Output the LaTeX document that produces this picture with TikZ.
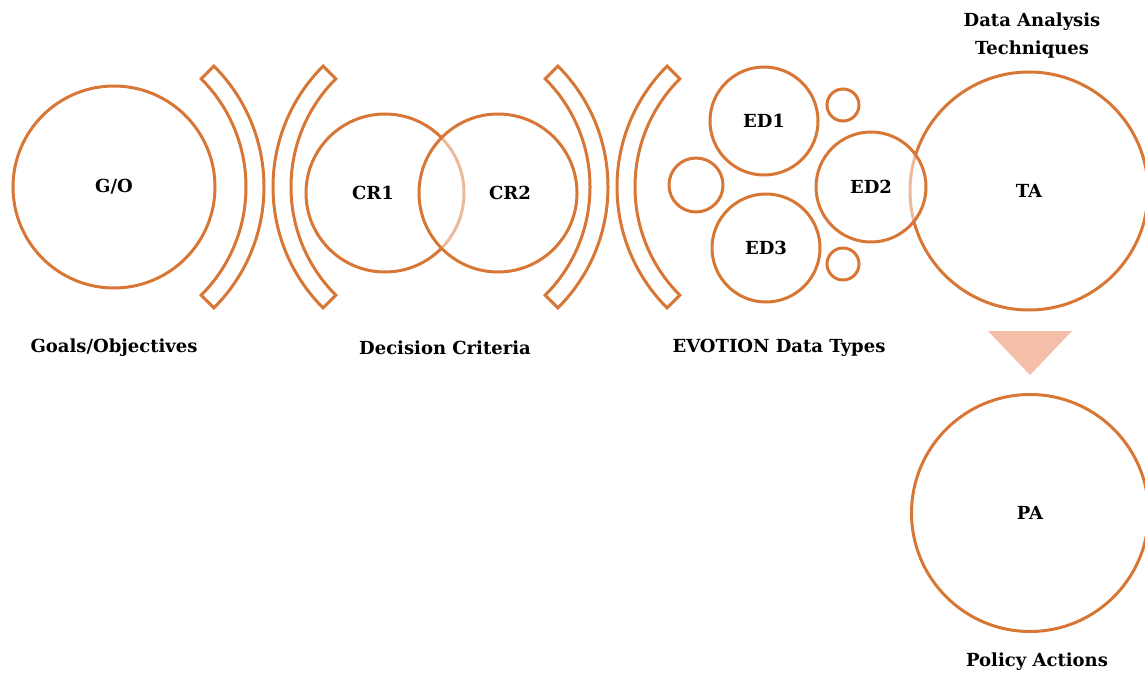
\documentclass[tikz,border=0pt]{standalone}
\usepackage{fontspec}
\setmainfont{DejaVu Serif}
\definecolor{ringcol}{RGB}{216,118,54}
\definecolor{tricol}{RGB}{244,190,168}
\tikzset{
  ring/.style={circle,draw=ringcol,line width=3pt,inner sep=0pt,minimum size=#1},
  veil/.style={fill=white,fill opacity=0.5,text opacity=1},
  bracketband/.style={draw=ringcol,line width=3pt,line join=miter},
  lbl/.style={font=\fontsize{18}{28}\selectfont\bfseries,text=black,inner sep=0pt,align=center},
}
\begin{document}
\begin{tikzpicture}[x=1pt,y=1pt]
\useasboundingbox (0,0) rectangle (1145,-676);
\clip (0,0) rectangle (1145,-676);
% circles
\node[ring=202] (go) at (114,-187) {};
\node[ring=158] (cr1) at (385,-193) {};
\node[ring=158,veil] (cr2) at (498,-193) {};
\node[ring=238] (ta) at (1029,-191) {};
\node[ring=108] (ed1) at (764,-121) {};
\node[ring=110,veil] (ed2) at (871,-187) {};
\node[ring=108] (ed3) at (766,-248) {};
\node[ring=54] (s1) at (696,-185) {};
\node[ring=32] (s2) at (843,-105) {};
\node[ring=32] (s3) at (843,-264) {};
\node[ring=237] (pa) at (1030,-513) {};
% brackets
\foreach \cx/\ang in {93/0, 444/180, 437/0, 788/180}{
  \begin{scope}[shift={(\cx,-187)},rotate=\ang]
    \draw[bracketband] (-45:153) -- (-45:171) arc[start angle=-45,end angle=45,radius=171pt]
      -- (45:153) arc[start angle=45,end angle=-45,radius=153pt] -- cycle;
  \end{scope}
}
% triangle
\fill[tricol] (988,-331) -- (1072,-331) -- (1030,-375) -- cycle;
% labels inside circles
\node[lbl] (tgo) at (go) {G/O};
\node[lbl] (tcr1) at ([xshift=-12pt]cr1.center) {CR1};
\node[lbl] (tcr2) at ([xshift=12pt]cr2.center) {CR2};
\node[lbl] (ted1) at (ed1) {ED1};
\node[lbl] (ted2) at (ed2) {ED2};
\node[lbl] (ted3) at (ed3) {ED3};
\node[lbl] (tta) at (ta) {TA};
\node[lbl] (tpa) at (pa) {PA};
% captions
\node[lbl] (cgo) at (114,-348) {Goals/Objectives};
\node[lbl] (ccr) at (445,-348) {Decision Criteria};
\node[lbl] (ced) at (779,-348) {EVOTION Data Types};
\node[lbl] (cta) at (1032,-36) {Data Analysis\\Techniques};
\node[lbl] (cpa) at (1037,-662) {Policy Actions};
\end{tikzpicture}
\end{document}
